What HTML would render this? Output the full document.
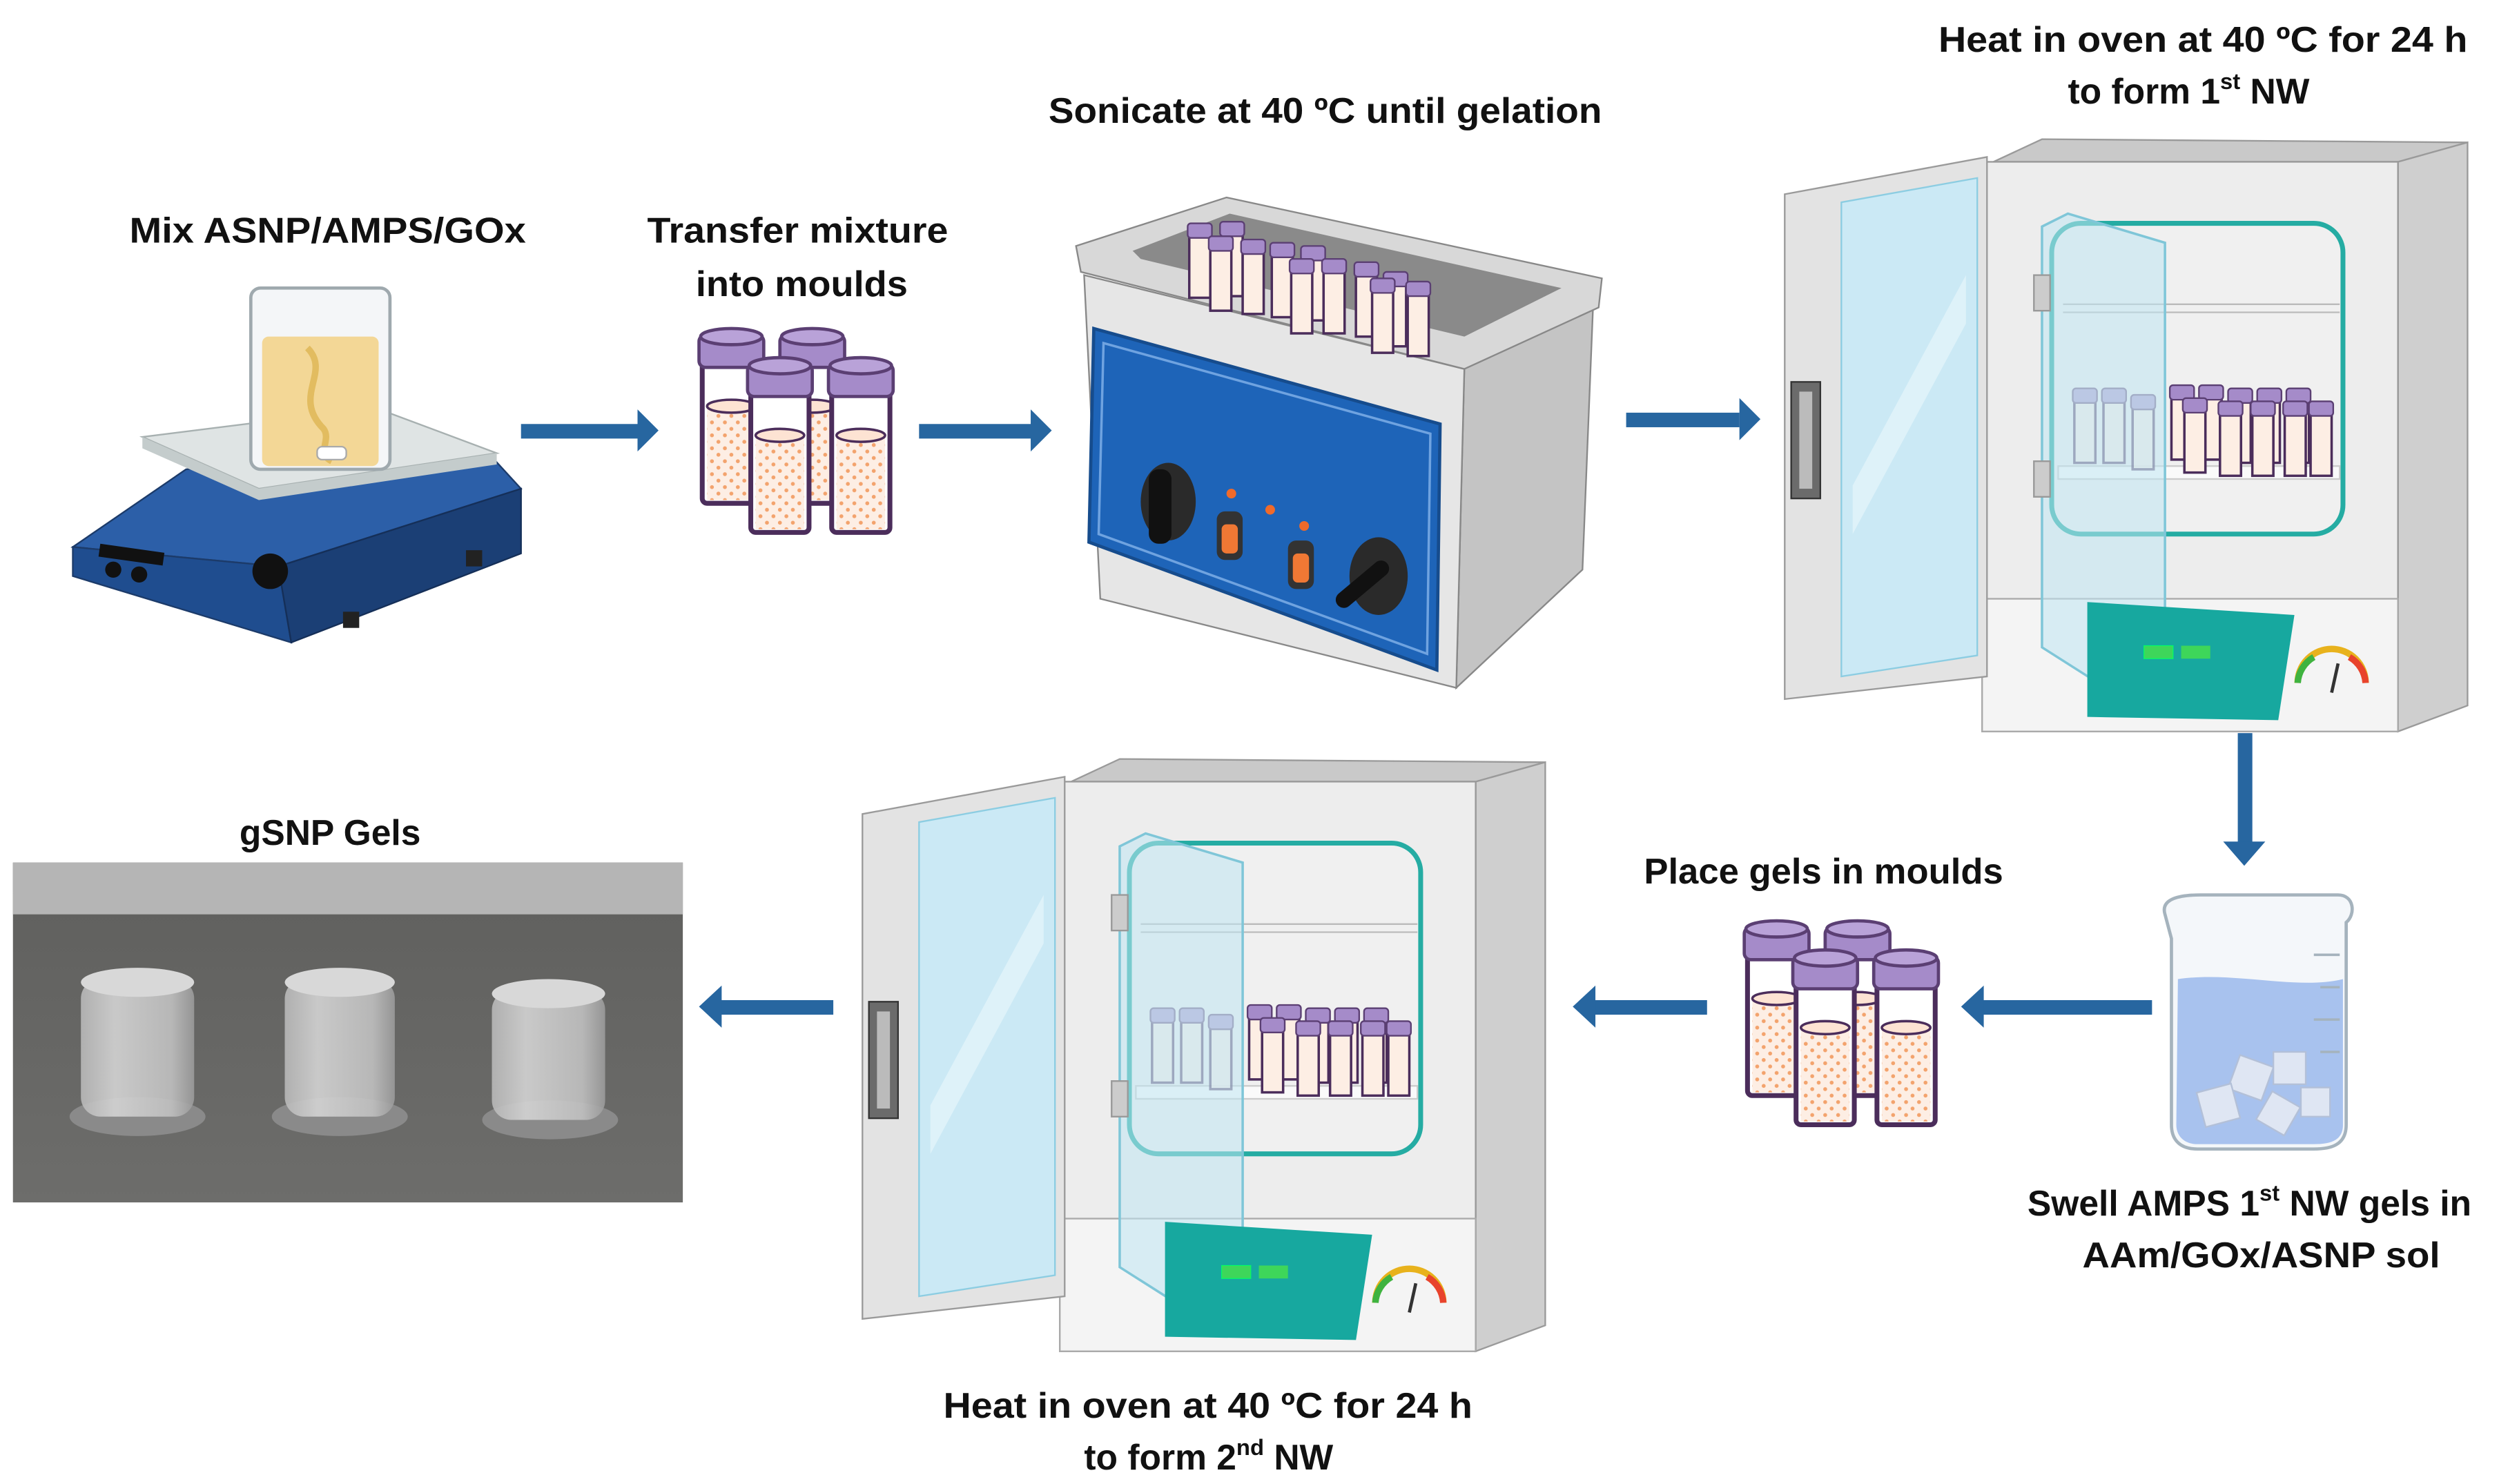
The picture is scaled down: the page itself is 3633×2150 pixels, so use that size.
<!DOCTYPE html>
<html><head><meta charset="utf-8"><style>
html,body{margin:0;padding:0;background:#fff;}
svg{display:block;}
text{font-family:"Liberation Sans",sans-serif;font-weight:bold;font-size:22px;fill:#111;}
</style></head><body>
<svg width="3633" height="2150" viewBox="0 0 1550 917" preserveAspectRatio="none" xmlns="http://www.w3.org/2000/svg">
<defs>
<pattern id="dots" width="8" height="8" patternUnits="userSpaceOnUse">
<rect width="8" height="8" fill="#fdeee4"/>
<circle cx="2" cy="2" r="1.2" fill="#f3a36d"/><circle cx="6" cy="6" r="1.2" fill="#f3a36d"/>
</pattern>
<g id="tube">
<rect x="0" y="8" width="36" height="96" rx="3" fill="#fff" stroke="#4b2d5b" stroke-width="3"/>
<rect x="3" y="44" width="30" height="58" fill="url(#dots)"/>
<ellipse cx="18" cy="44" rx="15" ry="4" fill="#fde3d3" stroke="#4b2d5b" stroke-width="1.5"/>
<rect x="-2" y="0" width="40" height="20" rx="4" fill="#a58bc9" stroke="#5b3f73" stroke-width="2"/>
<ellipse cx="18" cy="1" rx="19" ry="5" fill="#b9a2d8" stroke="#5b3f73" stroke-width="2"/>
</g>
<g id="tubes4">
<use href="#tube" x="0" y="0"/>
<use href="#tube" x="50" y="0"/>
<use href="#tube" x="30" y="18"/>
<use href="#tube" x="80" y="18"/>
</g>
<g id="mini">
<rect x="0" y="6" width="13" height="40" fill="#fdeee4" stroke="#4b2d5b" stroke-width="1.5"/>
<rect x="-1" y="0" width="15" height="9" rx="2" fill="#a58bc9" stroke="#5b3f73" stroke-width="1"/>
</g>
<g id="oven">
<!-- top -->
<polygon points="1232,100 1262,86 1525,88 1482,100" fill="#c9c9c9" stroke="#9a9a9a"/>
<!-- right side -->
<polygon points="1482,100 1525,88 1525,436 1482,452" fill="#cfcfcf" stroke="#9a9a9a"/>
<!-- front -->
<rect x="1225" y="100" width="257" height="352" fill="#ededed" stroke="#9a9a9a"/>
<rect x="1225" y="370" width="257" height="82" fill="#f4f4f4" stroke="#aaa"/>
<!-- chamber -->
<rect x="1268" y="138" width="180" height="192" rx="18" fill="#f0f0f0" stroke="#25aca3" stroke-width="3"/>
<line x1="1275" y1="188" x2="1446" y2="188" stroke="#bbb"/>
<line x1="1275" y1="193" x2="1446" y2="193" stroke="#bbb"/>
<rect x="1272" y="288" width="174" height="8" fill="#fafafa" stroke="#ccc"/>
<g opacity="0.75">
<use href="#mini" x="1282" y="240"/><use href="#mini" x="1300" y="240"/><use href="#mini" x="1318" y="244"/>
</g>
<use href="#mini" x="1342" y="238"/><use href="#mini" x="1360" y="238"/><use href="#mini" x="1378" y="240"/><use href="#mini" x="1396" y="240"/><use href="#mini" x="1414" y="240"/>
<use href="#mini" x="1350" y="246"/><use href="#mini" x="1372" y="248"/><use href="#mini" x="1392" y="248"/><use href="#mini" x="1412" y="248"/><use href="#mini" x="1428" y="248"/>
<!-- glass inner door -->
<polygon points="1262,140 1278,132 1338,150 1338,435 1325,440 1262,400" fill="#bfe6f2" fill-opacity="0.55" stroke="#7fc6d8" stroke-width="1.5"/>
<rect x="1257" y="170" width="10" height="22" fill="#ccc" stroke="#999"/>
<rect x="1257" y="285" width="10" height="22" fill="#ccc" stroke="#999"/>
<!-- control -->
<polygon points="1290,372 1418,380 1408,445 1290,443" fill="#17a89f"/>
<rect x="1325" y="399" width="18" height="8" fill="#3ed65a" stroke="#0f6" stroke-width="0.5"/>
<rect x="1348" y="399" width="18" height="8" fill="#3ed65a"/>
<path d="M1420,422 A20,20 0 0 1 1462,422" fill="none" stroke="#e8b21c" stroke-width="4"/>
<path d="M1420,422 A20,20 0 0 1 1430,406" fill="none" stroke="#3fb33f" stroke-width="4"/>
<path d="M1452,406 A20,20 0 0 1 1462,422" fill="none" stroke="#e8432c" stroke-width="4"/>
<line x1="1441" y1="428" x2="1445" y2="410" stroke="#333" stroke-width="2"/>
<!-- open door -->
<polygon points="1103,120 1228,97 1228,418 1103,432" fill="#e3e3e3" stroke="#9a9a9a"/>
<polygon points="1138,125 1222,110 1222,405 1138,418" fill="#cbe9f5" stroke="#8ccde2"/>
<polygon points="1145,300 1215,170 1215,200 1145,330" fill="#e6f5fb" opacity="0.7"/>
<rect x="1107" y="236" width="18" height="72" fill="#6b6b6b" stroke="#333"/>
<rect x="1112" y="242" width="8" height="60" fill="#bbb"/>
</g>
</defs>

<!-- Hot plate -->
<polygon points="45,338 115,290 300,278 322,302 172,350" fill="#2c5fa8" stroke="#1c3b6a"/>
<polygon points="45,338 172,350 180,397 45,356" fill="#1f4d8f" stroke="#1c3b6a"/>
<polygon points="172,350 322,302 322,342 180,397" fill="#1b3f75" stroke="#152f58"/>
<rect x="62" y="336" width="40" height="8" fill="#111" transform="rotate(8 62 336)"/>
<circle cx="70" cy="352" r="5" fill="#111"/><circle cx="86" cy="355" r="5" fill="#111"/>
<circle cx="167" cy="353" r="11" fill="#111"/>
<rect x="212" y="378" width="10" height="10" fill="#222"/><rect x="288" y="340" width="10" height="10" fill="#222"/>
<polygon points="88,270 232,252 307,280 160,302" fill="#dfe4e4" stroke="#a7b0b0"/>
<polygon points="160,302 307,280 307,287 160,309 88,277 88,270" fill="#c4cccc"/>
<rect x="155" y="178" width="86" height="112" rx="6" fill="#f4f6f8" stroke="#9fa9ae" stroke-width="2"/>
<rect x="162" y="208" width="72" height="80" rx="4" fill="#f3d796"/>
<path d="M190,215 C205,230 180,245 200,265 C205,272 195,280 205,285" stroke="#e2bc60" stroke-width="4" fill="none"/>
<rect x="196" y="276" width="18" height="8" rx="3" fill="#fff" stroke="#aaa"/>

<!-- Arrows -->
<g fill="#2766a0">
<rect x="322" y="262" width="73" height="9"/><polygon points="394,253 407,266 394,279"/>
<rect x="568" y="262" width="70" height="9"/><polygon points="637,253 650,266 637,279"/>
<rect x="1005" y="255" width="70" height="9"/><polygon points="1075,246 1088,259 1075,272"/>
<rect x="1383" y="453" width="9" height="68"/><polygon points="1374,520 1387,535 1400,520"/>
<rect x="1225" y="618" width="105" height="9"/><polygon points="1226,609 1212,622 1226,635"/>
<rect x="985" y="618" width="70" height="9"/><polygon points="986,609 972,622 986,635"/>
<rect x="445" y="618" width="70" height="9"/><polygon points="446,609 432,622 446,635"/>
</g>

<!-- Tubes -->
<use href="#tubes4" x="434" y="207"/>
<use href="#tubes4" x="1080" y="573"/>

<!-- Sonicator -->
<polygon points="905,228 985,178 978,352 900,425" fill="#c4c4c4" stroke="#888"/>
<polygon points="670,170 905,228 900,425 680,370" fill="#e6e6e6" stroke="#888"/>
<polygon points="665,152 758,122 990,172 988,190 905,228 668,168" fill="#d8d8d8" stroke="#888"/>
<polygon points="700,155 760,132 965,178 905,208 705,160" fill="#8a8a8a"/>
<g>
<use href="#mini" x="735" y="138"/><use href="#mini" x="755" y="137"/><use href="#mini" x="748" y="146"/><use href="#mini" x="768" y="148"/>
<use href="#mini" x="786" y="150"/><use href="#mini" x="805" y="152"/><use href="#mini" x="798" y="160"/><use href="#mini" x="818" y="160"/>
<use href="#mini" x="838" y="162"/><use href="#mini" x="856" y="168"/><use href="#mini" x="848" y="172"/><use href="#mini" x="870" y="174"/>
</g>
<polygon points="676,203 890,262 888,414 673,335" fill="#1e64b8" stroke="#164c8d" stroke-width="2"/>
<polygon points="682,212 884,268 882,404 679,330" fill="none" stroke="#6fa3e0" stroke-width="1.5"/>
<ellipse cx="722" cy="310" rx="17" ry="24" fill="#2a2a2a"/><rect x="710" y="290" width="14" height="46" rx="6" fill="#111"/>
<ellipse cx="852" cy="356" rx="18" ry="24" fill="#2a2a2a"/><rect x="822" y="356" width="40" height="10" rx="5" fill="#111" transform="rotate(-40 842 361)"/>
<circle cx="761" cy="305" r="3" fill="#f06a2a"/><circle cx="785" cy="315" r="3" fill="#f06a2a"/><circle cx="806" cy="325" r="3" fill="#f06a2a"/>
<rect x="752" y="316" width="16" height="30" rx="5" fill="#333"/><rect x="755" y="324" width="10" height="18" rx="3" fill="#f07834"/>
<rect x="796" y="334" width="16" height="30" rx="5" fill="#333"/><rect x="799" y="342" width="10" height="18" rx="3" fill="#f07834"/>

<!-- Ovens -->
<use href="#oven"/>
<use href="#oven" transform="translate(-570,383)"/>

<!-- Beaker 2 -->
<path d="M1338,565 C1335,555 1348,553 1360,553 L1445,553 C1455,553 1456,565 1450,570 L1450,695 C1450,708 1440,710 1430,710 L1358,710 C1348,710 1342,705 1342,695 L1342,580 Z" fill="#f4f7fa" stroke="#a5b3bd" stroke-width="2"/>
<path d="M1346,605 C1380,600 1420,612 1448,605 L1448,695 C1448,705 1440,707 1430,707 L1358,707 C1350,707 1345,702 1345,695 Z" fill="#a8c2ee"/>
<g fill="#dfe6f3" stroke="#b3c0d8"><rect x="1380" y="655" width="22" height="22" transform="rotate(20 1391 666)"/><rect x="1405" y="650" width="20" height="20"/><rect x="1360" y="672" width="22" height="22" transform="rotate(-15 1371 683)"/><rect x="1398" y="678" width="20" height="20" transform="rotate(30 1408 688)"/><rect x="1422" y="672" width="18" height="18"/></g>
<g stroke="#a5b3bd" stroke-width="1.5"><line x1="1430" y1="590" x2="1446" y2="590"/><line x1="1434" y1="610" x2="1446" y2="610"/><line x1="1430" y1="630" x2="1446" y2="630"/><line x1="1434" y1="650" x2="1446" y2="650"/></g>

<!-- Photo -->
<defs><linearGradient id="bg" x1="0" y1="0" x2="0" y2="1"><stop offset="0" stop-color="#5f5f5d"/><stop offset="1" stop-color="#6d6d6b"/></linearGradient>
<linearGradient id="cyl" x1="0" y1="0" x2="1" y2="0"><stop offset="0" stop-color="#b8b8b8"/><stop offset="0.3" stop-color="#d4d4d4"/><stop offset="0.8" stop-color="#c0c0c0"/><stop offset="1" stop-color="#9a9a9a"/></linearGradient></defs>
<rect x="8" y="533" width="414" height="210" fill="url(#bg)"/>
<rect x="8" y="533" width="414" height="32" fill="#b5b5b5"/>
<g>
<ellipse cx="85" cy="690" rx="42" ry="12" fill="#8a8a8a"/>
<rect x="50" y="605" width="70" height="85" rx="12" fill="url(#cyl)" opacity="0.9"/>
<ellipse cx="85" cy="607" rx="35" ry="9" fill="#d8d8d8"/>
<ellipse cx="210" cy="690" rx="42" ry="12" fill="#8a8a8a"/>
<rect x="176" y="605" width="68" height="85" rx="12" fill="url(#cyl)" opacity="0.9"/>
<ellipse cx="210" cy="607" rx="34" ry="9" fill="#d8d8d8"/>
<ellipse cx="340" cy="692" rx="42" ry="12" fill="#8a8a8a"/>
<rect x="304" y="612" width="70" height="80" rx="12" fill="url(#cyl)" opacity="0.9"/>
<ellipse cx="339" cy="614" rx="35" ry="9" fill="#d8d8d8"/>
</g>

<!-- Labels -->
<text x="80" y="150" textLength="245" lengthAdjust="spacingAndGlyphs">Mix ASNP/AMPS/GOx</text>
<text x="400" y="150" textLength="186" lengthAdjust="spacingAndGlyphs">Transfer mixture</text>
<text x="430" y="183" textLength="131" lengthAdjust="spacingAndGlyphs">into moulds</text>
<text x="648" y="76" textLength="342" lengthAdjust="spacingAndGlyphs">Sonicate at 40 ºC until gelation</text>
<text x="1198" y="32" textLength="327" lengthAdjust="spacingAndGlyphs">Heat in oven at 40 ºC for 24 h</text>
<text x="1278" y="64">to form 1<tspan font-size="14" dy="-9">st</tspan><tspan dy="9"> NW</tspan></text>
<text x="148" y="522" textLength="112" lengthAdjust="spacingAndGlyphs">gSNP Gels</text>
<text x="1016" y="546" textLength="222" lengthAdjust="spacingAndGlyphs">Place gels in moulds</text>
<text x="1253" y="751">Swell AMPS 1<tspan font-size="14" dy="-9">st</tspan><tspan dy="9"> NW gels in</tspan></text>
<text x="1287" y="783" textLength="221" lengthAdjust="spacingAndGlyphs">AAm/GOx/ASNP sol</text>
<text x="583" y="876" textLength="327" lengthAdjust="spacingAndGlyphs">Heat in oven at 40 ºC for 24 h</text>
<text x="670" y="908">to form 2<tspan font-size="14" dy="-9">nd</tspan><tspan dy="9"> NW</tspan></text>
</svg>
</body></html>
